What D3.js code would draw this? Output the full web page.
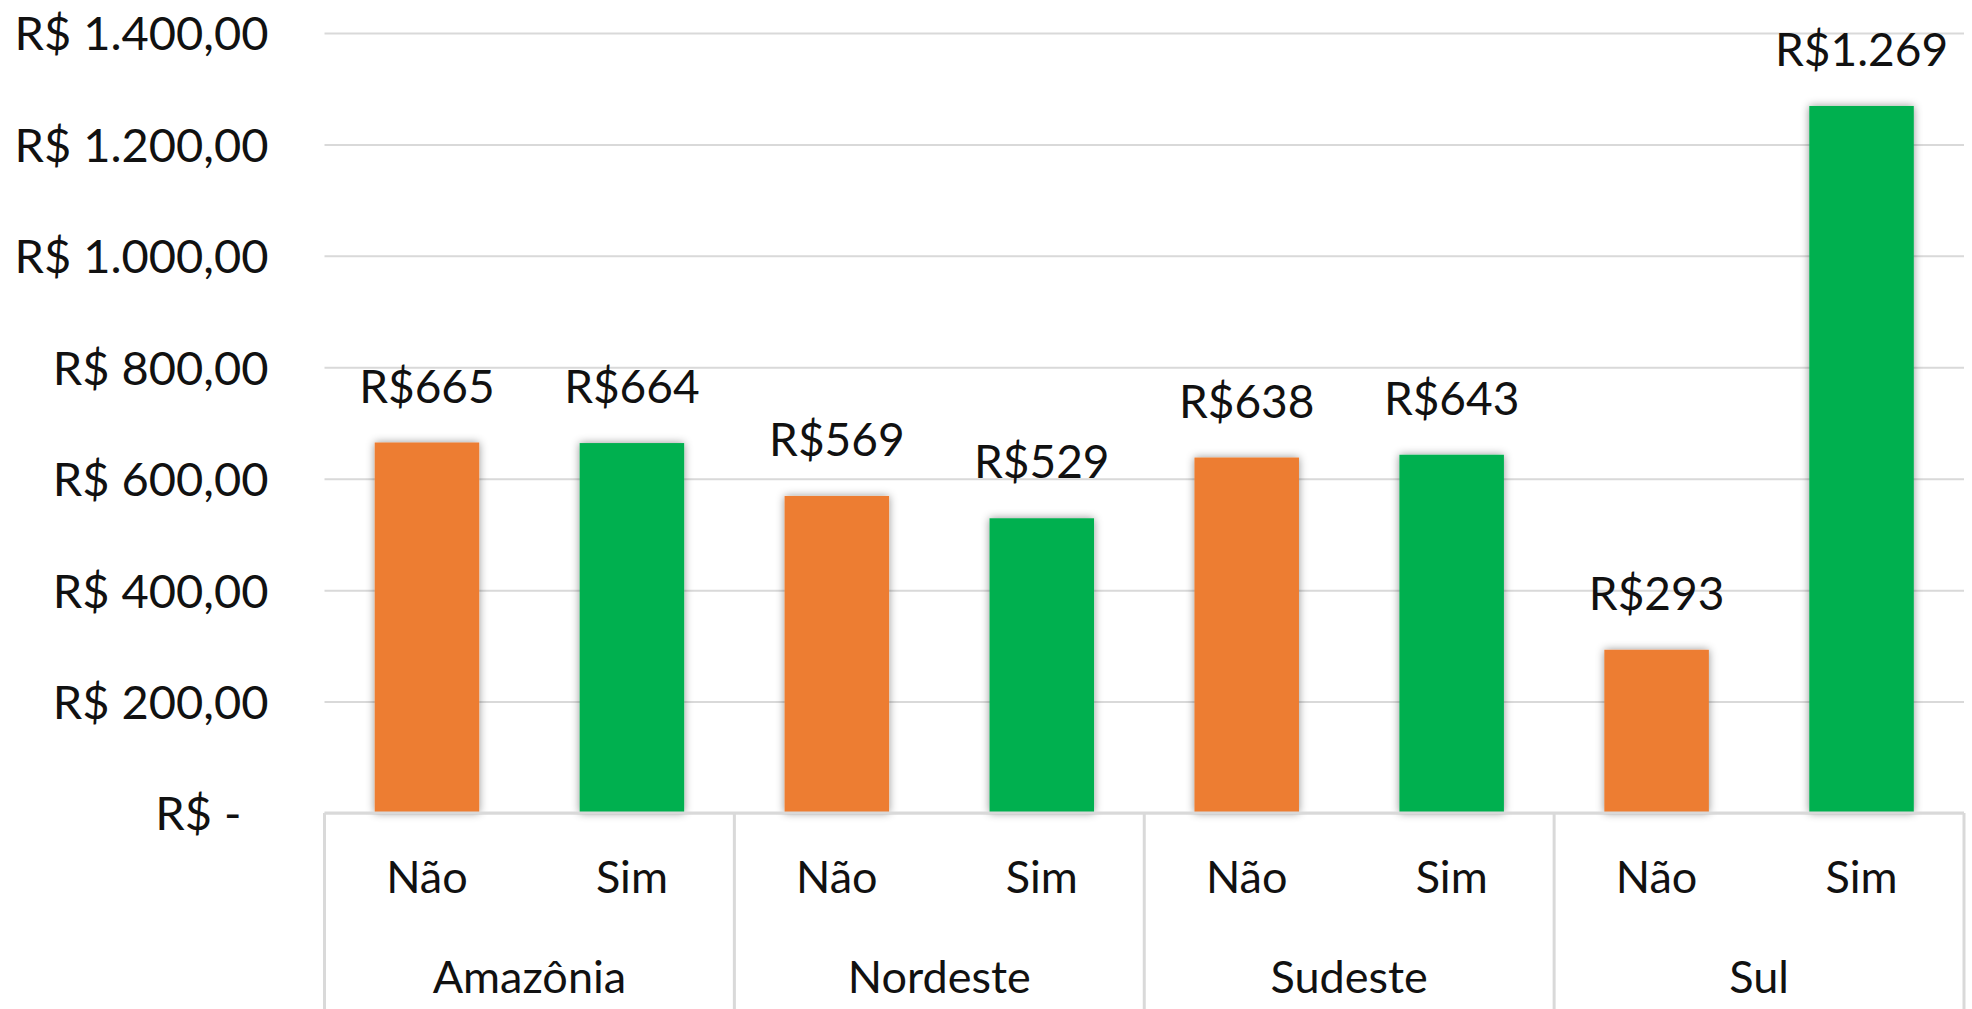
<!DOCTYPE html>
<html>
<head>
<meta charset="utf-8">
<script src="https://cdnjs.cloudflare.com/ajax/libs/d3/7.8.5/d3.min.js"></script>
<style>
  html, body { margin: 0; padding: 0; background: #fff; }
  svg { display: block; }
  text { font-family: Lato, "Open Sans", sans-serif; fill: #111; }
</style>
</head>
<body>
<svg id="chart" width="1972" height="1009"></svg>
<script>
const regions = ["Amazônia", "Nordeste", "Sudeste", "Sul"];
const answers = ["Não", "Sim"];
const naoValues = [665, 569, 638, 293];
const simValues = [664, 529, 643, 1269];
const yTicks = [0, 200, 400, 600, 800, 1000, 1200, 1400];
const colors = { "Não": "#ED7D31", "Sim": "#00B050" };

const W = 1972, H = 1009;
const margin = { left: 324.5, right: 8, top: 33, bottom: 196 };
const plotW = W - margin.left - margin.right;
const plotH = H - margin.top - margin.bottom;

const ptBR = d3.formatLocale({ decimal: ",", thousands: ".", grouping: [3], currency: ["R$", ""] });
const fmtAxis = ptBR.format(",.2f");
const fmtLabel = ptBR.format(",.0f");

const rows = [];
regions.forEach((r, i) => {
  rows.push({ region: r, answer: "Não", value: naoValues[i] });
  rows.push({ region: r, answer: "Sim", value: simValues[i] });
});

const svg = d3.select("#chart");
const defs = svg.append("defs");
const f = defs.append("filter").attr("id", "shadow")
  .attr("x", "-30%").attr("y", "-10%").attr("width", "160%").attr("height", "120%");
f.append("feDropShadow").attr("dx", 0).attr("dy", 0).attr("stdDeviation", 4.5)
  .attr("flood-color", "#000").attr("flood-opacity", 0.42);

const g = svg.append("g").attr("transform", `translate(${margin.left},${margin.top})`);

const x0 = d3.scaleBand().domain(regions).range([0, plotW]).paddingInner(0).paddingOuter(0);
const x1 = d3.scaleBand().domain(answers).range([0, x0.bandwidth()]).padding(0.49).paddingOuter(0.245);
const y = d3.scaleLinear().domain([0, 1400]).range([plotH, 0]);

// gridlines + y labels
const yAxis = d3.axisLeft(y).tickValues(yTicks).tickSizeInner(-plotW).tickSizeOuter(0).tickPadding(56)
  .tickFormat(d => d === 0 ? "R$ -" : "R$ " + fmtAxis(d));
const ya = g.append("g").call(yAxis);
ya.select(".domain").remove();
ya.selectAll(".tick line").attr("stroke", "#d9d9d9").attr("stroke-width", 2);
ya.selectAll(".tick text").attr("font-size", 47).attr("dy", "0.36em").style("fill", "#111")
  .attr("dx", d => d === 0 ? -27 : 0);

// bars
const groups = g.selectAll(".grp").data(regions).join("g")
  .attr("transform", d => `translate(${x0(d)},0)`);
groups.selectAll("rect").data(r => rows.filter(o => o.region === r)).join("rect")
  .attr("x", d => x1(d.answer))
  .attr("width", x1.bandwidth())
  .attr("y", d => y(d.value))
  .attr("height", d => y(0) - y(d.value))
  .attr("fill", d => colors[d.answer])
  .attr("filter", "url(#shadow)");

// value labels
groups.selectAll(".vlab").data(r => rows.filter(o => o.region === r)).join("text")
  .attr("class", "vlab")
  .attr("x", d => x1(d.answer) + x1.bandwidth() / 2)
  .attr("y", d => y(d.value) - 40)
  .attr("text-anchor", "middle")
  .attr("font-size", 46)
  .text(d => "R$" + fmtLabel(d.value));

// category box (multi-level axis)
const axisG = g.append("g").attr("transform", `translate(0,${plotH})`);
axisG.append("line").attr("x1", 0).attr("x2", plotW).attr("y1", 0).attr("y2", 0)
  .attr("stroke", "#d9d9d9").attr("stroke-width", 3);
const bounds = regions.map(r => x0(r)).concat([plotW]);
axisG.selectAll(".vb").data(bounds).join("line")
  .attr("x1", d => d).attr("x2", d => d).attr("y1", 0).attr("y2", H)
  .attr("stroke", "#d9d9d9").attr("stroke-width", 3);

// sub labels
const subAxis = d3.axisBottom(x1).tickSize(0).tickPadding(0);
regions.forEach(r => {
  const sg = axisG.append("g").attr("transform", `translate(${x0(r)},0)`).call(subAxis);
  sg.select(".domain").remove();
  sg.selectAll("text").attr("font-size", 45).attr("y", 80).attr("dy", 0).style("fill", "#111");
});
// region labels
const regAxis = d3.axisBottom(x0).tickSize(0).tickPadding(0);
const rg = axisG.append("g").call(regAxis);
rg.select(".domain").remove();
rg.selectAll("text").attr("font-size", 45).attr("y", 180).attr("dy", 0).style("fill", "#111");
</script>
</body>
</html>
